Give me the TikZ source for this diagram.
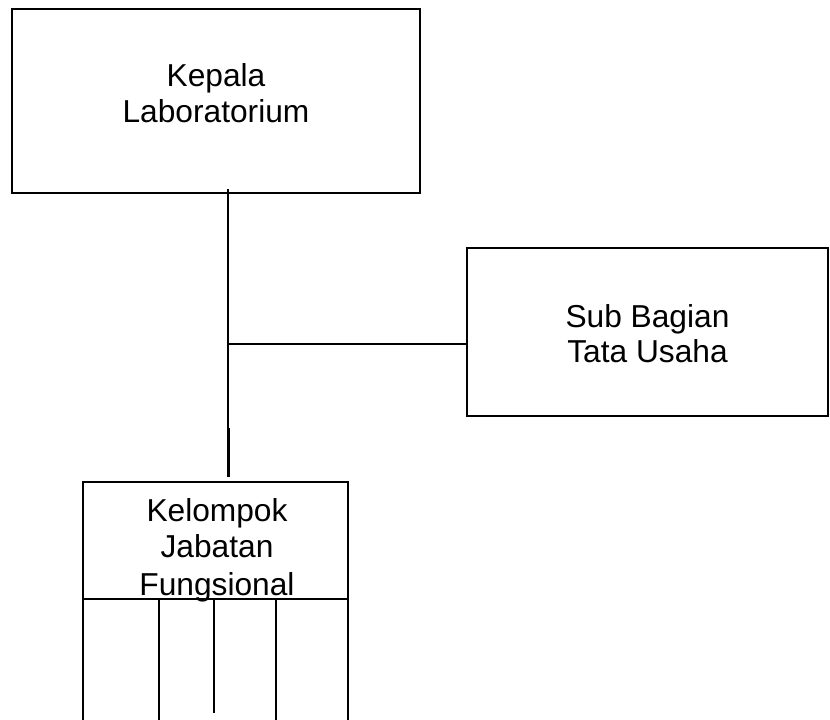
\documentclass[tikz,border=0pt]{standalone}
\usepackage{fontspec}
\setmainfont{Liberation Sans}
\begin{document}
\begin{tikzpicture}[x=1pt,y=1pt,
  box/.style={draw=black,line width=1.4pt,rectangle,inner sep=0pt},
  lbl/.style={align=center,inner sep=0pt,font=\fontsize{31.7}{36}\selectfont},
  conn/.style={draw=black,line width=1.3pt},
  thickconn/.style={draw=black,line width=2.8pt}]
\useasboundingbox (0,0) rectangle (830,-720);
% boxes
\node[box,minimum width=408,minimum height=184] (kepala) at (216,-101) {};
\node[box,minimum width=361,minimum height=168] (sub) at (647.5,-332) {};
\node[box,minimum width=265,minimum height=260] (kjf) at (215.5,-612) {};
% texts
\node[lbl,anchor=base] (tk1) at (216,-86) {Kepala};
\node[lbl,anchor=base] (tk2) at (216,-122) {Laboratorium};
\node[lbl,anchor=base] (ts1) at (647.5,-327) {Sub Bagian};
\node[lbl,anchor=base] (ts2) at (647.5,-362) {Tata Usaha};
\node[lbl,anchor=base] (tj1) at (217,-521) {Kelompok};
\node[lbl,anchor=base] (tj2) at (217,-557) {Jabatan};
\node[lbl,anchor=base] (tj3) at (217,-595) {Fungsional};
% connectors
\coordinate (vtop) at (228,-189);
\coordinate (vjoin) at (228,-344);
\coordinate (vthk) at (228.5,-428);
\coordinate (vend) at (228.5,-477);
\draw[conn] (vtop) -- (vjoin) -- (228,-477);
\draw[conn] (vjoin) -- (sub.west |- vjoin);
\draw[thickconn] (vthk) -- (vend);
% divisions of the lower box
\coordinate (dl) at (kjf.west |- 0,-599);
\coordinate (dr) at (kjf.east |- 0,-599);
\draw[conn] (dl) -- (dr);
\coordinate (c1) at (159,-599);
\coordinate (c2) at (214,-599);
\coordinate (c3) at (276,-599);
\draw[conn] (c1) -- (159,-725);
\draw[conn] (c2) -- (214,-713);
\draw[conn] (c3) -- (276,-725);
\end{tikzpicture}
\end{document}
